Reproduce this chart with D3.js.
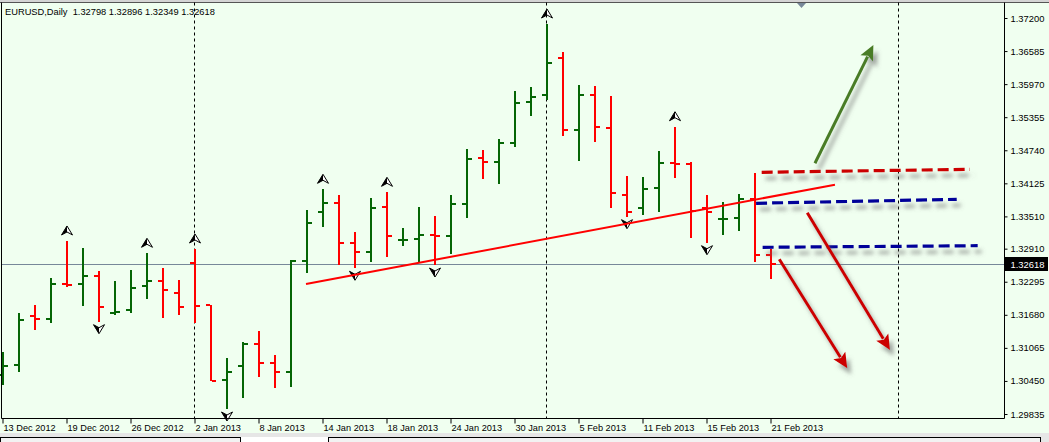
<!DOCTYPE html>
<html><head><meta charset="utf-8">
<script src="https://cdn.jsdelivr.net/npm/d3@7"></script>
<style>
html,body{margin:0;padding:0;background:#F0FFF0;}
svg{display:block;}
text{font-family:"Liberation Sans",Arial,sans-serif;}
</style>
</head><body>
<svg id="c" width="1049" height="442"></svg>
<script>
// ---------- DATA ----------
const dates = ["13 Dec 2012","14 Dec 2012","17 Dec 2012","18 Dec 2012","19 Dec 2012","20 Dec 2012","21 Dec 2012","24 Dec 2012","26 Dec 2012","27 Dec 2012","28 Dec 2012","31 Dec 2012",
"2 Jan 2013","3 Jan 2013","4 Jan 2013","7 Jan 2013","8 Jan 2013","9 Jan 2013","10 Jan 2013","11 Jan 2013","14 Jan 2013","15 Jan 2013","16 Jan 2013","17 Jan 2013","18 Jan 2013","21 Jan 2013","22 Jan 2013","23 Jan 2013","24 Jan 2013","25 Jan 2013","28 Jan 2013","29 Jan 2013","30 Jan 2013","31 Jan 2013",
"1 Feb 2013","4 Feb 2013","5 Feb 2013","6 Feb 2013","7 Feb 2013","8 Feb 2013","11 Feb 2013","12 Feb 2013","13 Feb 2013","14 Feb 2013","15 Feb 2013","18 Feb 2013","19 Feb 2013","20 Feb 2013","21 Feb 2013"];
const openP = [1.30560,1.30747,1.31663,1.31602,1.32260,1.32247,1.32407,1.31719,1.31769,1.32221,1.32314,1.32080,1.32638,1.31862,1.30468,1.30733,1.31132,1.30778,1.30622,1.32686,1.33598,1.33765,1.33010,1.32854,1.33691,1.33065,1.33090,1.33155,1.33151,1.33740,1.34602,1.34528,1.34881,1.35643,1.35768,1.36462,1.35117,1.35768,1.35160,1.33914,1.33657,1.34044,1.34500,1.34485,1.33657,1.33458,1.33486,1.33828,1.32798];
const highP = [1.30988,1.31708,1.31862,1.32359,1.33053,1.32917,1.32495,1.32309,1.32513,1.32824,1.32556,1.32327,1.32904,1.31862,1.30871,1.31169,1.31379,1.30933,1.32699,1.33629,1.34014,1.33908,1.33226,1.33847,1.33958,1.33289,1.33679,1.33518,1.33908,1.34758,1.34745,1.34950,1.35848,1.35911,1.37088,1.36562,1.35954,1.35935,1.35749,1.34262,1.34237,1.34726,1.35178,1.34522,1.33908,1.33778,1.33921,1.34312,1.32896];
const lowP  = [1.30375,1.30622,1.31397,1.31522,1.32203,1.31844,1.31552,1.31676,1.31720,1.31974,1.31626,1.31676,1.31522,1.30449,1.29928,1.30138,1.30529,1.30324,1.30343,1.32452,1.33319,1.32606,1.32545,1.32668,1.32761,1.32965,1.32638,1.32606,1.32811,1.33475,1.34206,1.34107,1.34795,1.35383,1.35675,1.35011,1.34546,1.34899,1.33672,1.33505,1.33536,1.33598,1.34230,1.33114,1.33021,1.33164,1.33244,1.32668,1.32349];
const closeP= [1.30728,1.31583,1.31602,1.32247,1.32240,1.32407,1.31831,1.31738,1.32184,1.32314,1.32141,1.31831,1.31849,1.30455,1.30622,1.31132,1.30789,1.30611,1.32686,1.33382,1.33765,1.33021,1.32854,1.33672,1.33146,1.33075,1.33170,1.33148,1.33735,1.34578,1.34528,1.34870,1.35625,1.35736,1.36358,1.35117,1.35768,1.35178,1.33951,1.33598,1.34023,1.34494,1.34490,1.33611,1.33601,1.33466,1.33834,1.32798,1.32618];
const dateTickIdx = [0,4,8,12,16,20,24,28,32,36,40,44,48];
const priceTickLabels = ["1.37200","1.36585","1.35970","1.35355","1.34740","1.34125","1.33510","1.32910","1.32295","1.31680","1.31065","1.30450","1.29835"];
const upFractals = [4,9,12,20,24,34,42];
const downFractals = [6,14,22,27,39,44];
const separators = [12,34,56];
const lastPrice = 1.32618;
const titleText = "EURUSD,Daily  1.32798 1.32896 1.32349 1.32618";
const trendLine = [[19,1.32253],[52.06,1.34100]];
const levelLines = [
  [[47.48,1.34330],[60.5,1.34386]],
  [[47.13,1.33754],[59.67,1.33828]],
  [[47.54,1.32935],[60.98,1.32965]]
];
const arrowLines = [
  [[50.81,1.34498],[54.46,1.36698]],
  [[50.33,1.33579],[55.5,1.31026]],
  [[48.58,1.32712],[52.83,1.30685]]
];

// ---------- CHART ----------
const W = 1049, H = 442;
const plotL = 1.5, plotR = 1004.5, plotT = 2.5, plotB = 418.5;
const svg = d3.select("#c");
const x = d3.scaleLinear().domain([0,48]).range([2,770]);
const y = d3.scaleLinear().domain([1.29835,1.37200]).range([414,18]);

svg.append("rect").attr("width",W).attr("height",H).attr("fill","#F0FFF0");

const defs = svg.append("defs");
const f = defs.append("filter").attr("id","sh").attr("filterUnits","userSpaceOnUse")
  .attr("x",0).attr("y",0).attr("width",W).attr("height",H);
f.append("feDropShadow").attr("dx",4).attr("dy",6).attr("stdDeviation",2.2)
  .attr("flood-color","#666").attr("flood-opacity",0.6);

// top strip
svg.append("rect").attr("x",0).attr("y",0).attr("width",W).attr("height",2).attr("fill","#D4D4D4");
svg.append("line").attr("x1",0).attr("x2",W).attr("y1",2.5).attr("y2",2.5).attr("stroke","#555");

// bottom strip
svg.append("rect").attr("x",0).attr("y",433).attr("width",W).attr("height",9).attr("fill","#E6E6E6");
svg.append("rect").attr("x",0.5).attr("y",437.5).attr("width",240).attr("height",6).attr("fill","#F2F2F2").attr("stroke","#000");
svg.append("rect").attr("x",241).attr("y",437).attr("width",87).attr("height",5).attr("fill","#FFFFFF");
svg.append("rect").attr("x",328.5).attr("y",437.5).attr("width",712).attr("height",6).attr("fill","#F2F2F2").attr("stroke","#000");

// separators
svg.append("g").selectAll("line").data(separators).join("line")
  .attr("x1",d=>x(d)+0.5).attr("x2",d=>x(d)+0.5).attr("y1",plotT).attr("y2",plotB)
  .attr("stroke","#000").attr("stroke-width",1).attr("stroke-dasharray","3,3");

// last price line
svg.append("line").attr("x1",plotL).attr("x2",plotR)
  .attr("y1",Math.round(y(lastPrice))+0.5).attr("y2",Math.round(y(lastPrice))+0.5)
  .attr("stroke","#778899").attr("stroke-width",1);

// bars
const idx = d3.range(openP.length);
const col = i => closeP[i] >= openP[i] ? "#056605" : "#FF0000";
const bars = svg.append("g");
bars.selectAll("rect.v").data(idx).join("rect").attr("class","v")
  .attr("x",i=>Math.round(x(i))).attr("width",2)
  .attr("y",i=>Math.round(y(highP[i]))).attr("height",i=>Math.max(2,Math.round(y(lowP[i]))-Math.round(y(highP[i]))))
  .attr("fill",col);
bars.selectAll("rect.o").data(idx).join("rect").attr("class","o")
  .attr("x",i=>Math.round(x(i))-4).attr("width",4)
  .attr("y",i=>Math.round(y(openP[i]))-1).attr("height",2).attr("fill",col);
bars.selectAll("rect.c").data(idx).join("rect").attr("class","c")
  .attr("x",i=>Math.round(x(i))+2).attr("width",4)
  .attr("y",i=>Math.round(y(closeP[i]))-1).attr("height",2).attr("fill",col);

// fractals
const upOutline = "M0,-5 L5.5,4 L0,1 L-5.5,4 Z";
const upFill = "M0,-5 L0,1 L-5.5,4 Z";
const fr = svg.append("g");
const upG = fr.selectAll("g.up").data(upFractals).join("g").attr("class","up")
  .attr("transform",i=>`translate(${Math.round(x(i))+1},${y(highP[i])-10})`);
upG.append("path").attr("d",upOutline).attr("fill","#fff").attr("stroke","#000").attr("stroke-width",1).attr("stroke-linejoin","round");
upG.append("path").attr("d",upFill).attr("fill","#000");
const dnG = fr.selectAll("g.dn").data(downFractals).join("g").attr("class","dn")
  .attr("transform",i=>`translate(${Math.round(x(i))+1},${y(lowP[i])+7}) scale(1,-1)`);
dnG.append("path").attr("d",upOutline).attr("fill","#fff").attr("stroke","#000").attr("stroke-width",1).attr("stroke-linejoin","round");
dnG.append("path").attr("d",upFill).attr("fill","#000");

// trendline
svg.append("line")
  .attr("x1",x(trendLine[0][0])).attr("y1",y(trendLine[0][1]))
  .attr("x2",x(trendLine[1][0])).attr("y2",y(trendLine[1][1]))
  .attr("stroke","#FF0000").attr("stroke-width",2);

// level dashed lines
const levelColors = ["#CC0000","#000099","#000099"];
svg.append("g").attr("filter","url(#sh)").selectAll("line").data(levelLines).join("line")
  .attr("x1",d=>x(d[0][0])).attr("y1",d=>y(d[0][1]))
  .attr("x2",d=>x(d[1][0])).attr("y2",d=>y(d[1][1]))
  .attr("stroke",(d,i)=>levelColors[i]).attr("stroke-width",3.2).attr("stroke-dasharray","11,5");

// arrows
const arrowColors = ["#4A7C26","#CC0000","#CC0000"];
const ag = svg.append("g").attr("filter","url(#sh)");
arrowLines.forEach((a,i)=>{
  const x1 = x(a[0][0]), y1 = y(a[0][1]), x2 = x(a[1][0]), y2 = y(a[1][1]);
  const dx = x2-x1, dy = y2-y1, L = Math.hypot(dx,dy), ux = dx/L, uy = dy/L;
  const hl = 15, hw = 7;
  const bx = x2-ux*hl, by = y2-uy*hl;
  ag.append("line").attr("x1",x1).attr("y1",y1).attr("x2",bx+ux*2).attr("y2",by+uy*2)
    .attr("stroke",arrowColors[i]).attr("stroke-width",3);
  ag.append("path").attr("d",`M${x2},${y2} L${bx-uy*hw},${by+ux*hw} L${bx+ux*3},${by+uy*3} L${bx+uy*hw},${by-ux*hw} Z`)
    .attr("fill",arrowColors[i]);
});

// chart shift marker
svg.append("path").attr("d","M797,3 L806,3 L801.5,8 Z").attr("fill","#778899");

// frame
svg.append("path").attr("d",`M${plotL},${plotT} L${plotL},${plotB} L${plotR},${plotB} L${plotR},${plotT}`)
  .attr("fill","none").attr("stroke","#000").attr("stroke-width",1);

// axes
const yAxis = d3.axisRight(y).tickValues(priceTickLabels.map(Number))
  .tickFormat((d,i)=>priceTickLabels[i]).tickSize(3).tickPadding(3);
const ya = svg.append("g").attr("transform",`translate(${plotR},0)`).call(yAxis);
ya.select(".domain").remove();
ya.selectAll("line").attr("stroke","#000");
ya.selectAll("text").attr("font-size","9.4px").attr("fill","#000").attr("font-family",'"Liberation Sans",Arial,sans-serif');

const xAxis = d3.axisBottom(x).tickValues(dateTickIdx).tickFormat(i=>dates[i]).tickSize(5).tickPadding(1);
const xa = svg.append("g").attr("transform",`translate(0,${plotB})`).call(xAxis);
xa.select(".domain").remove();
xa.selectAll("line").attr("stroke","#000").attr("transform","translate(0.5,0)");
xa.selectAll("text").attr("text-anchor","start").attr("dx","1").attr("font-size","9.2px").attr("fill","#000").attr("font-family",'"Liberation Sans",Arial,sans-serif');

// last price label box
const ly = y(lastPrice);
svg.append("rect").attr("x",plotR+0.5).attr("y",Math.round(ly)-7).attr("width",43).attr("height",14).attr("fill","#000");
svg.append("text").attr("x",plotR+6).attr("y",ly).attr("dy","0.34em").attr("font-size","9.4px").attr("fill","#fff").text(lastPrice.toFixed(5));

// title
svg.append("text").attr("x",5).attr("y",15).attr("font-size","9.3px").attr("fill","#000").attr("xml:space","preserve").style("white-space","pre").text(titleText);
</script>
</body></html>
